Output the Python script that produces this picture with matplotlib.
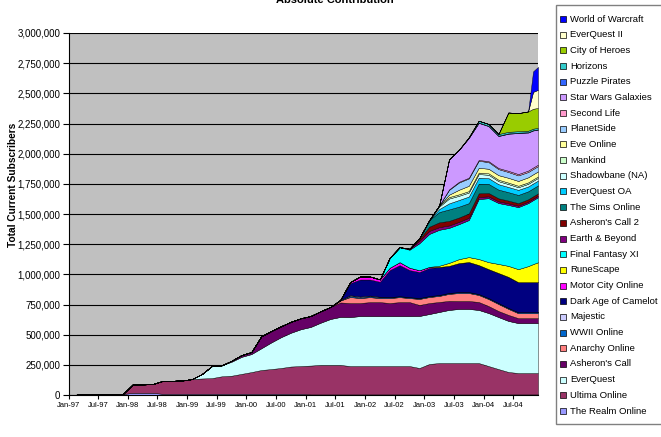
import matplotlib
matplotlib.use('Agg')
import matplotlib.pyplot as plt
from matplotlib.patches import Rectangle

plt.rcParams['font.family'] = ['Liberation Sans', 'DejaVu Sans']

# month index since Jan-97 (0 = Jan-97)
months = [1, 3, 5, 7, 9, 11, 13, 15, 17, 19, 21, 23, 25, 27, 29, 31, 33, 35, 37, 39,
          41, 43, 45, 47, 49, 51, 53, 55, 57, 59, 61, 63, 65, 67, 69, 71, 73, 75, 77, 79,
          81, 83, 85, 87, 89, 91, 93, 94, 95]

tick_months = [0, 6, 12, 18, 24, 30, 36, 42, 48, 54, 60, 66, 72, 78, 84, 90]
tick_labels = ['Jan-97', 'Jul-97', 'Jan-98', 'Jul-98', 'Jan-99', 'Jul-99', 'Jan-00', 'Jul-00',
               'Jan-01', 'Jul-01', 'Jan-02', 'Jul-02', 'Jan-03', 'Jul-03', 'Jan-04', 'Jul-04']

# subscribers in thousands, bottom of stack first
realm = [0, 8, 8, 8, 8, 8, 18, 18, 18, 10,
         10, 10, 10, 10, 10, 10, 10, 10, 10, 10,
         10, 10, 10, 10, 5, 5, 5, 5, 5, 5,
         5, 5, 5, 5, 5, 5, 5, 5, 5, 5,
         5, 5, 5, 5, 5, 5, 5, 5, 5]
ultima = [0, 0, 0, 0, 0, 0, 70, 70, 72, 106,
          108, 110, 122, 127, 130, 145, 150, 165, 180, 197,
          205, 214, 226, 230, 239, 244, 244, 244, 235, 235,
          235, 235, 235, 235, 235, 219, 252, 260, 260, 260,
          260, 260, 235, 210, 186, 177, 177, 177, 177]
everquest = [0, 0, 0, 0, 0, 0, 0, 0, 0, 0,
             0, 0, 0, 37, 100, 91, 116, 141, 149, 180,
             220, 255, 280, 305, 320, 350, 381, 398, 406, 414,
             414, 414, 414, 414, 414, 431, 414, 423, 440, 448,
             448, 440, 439, 431, 423, 414, 414, 414, 414]
asherons = [0, 0, 0, 0, 0, 0, 0, 0, 0, 0,
            0, 0, 0, 0, 0, 0, 8, 15, 17, 100,
            95, 91, 91, 91, 91, 95, 100, 120, 116, 108,
            116, 116, 108, 116, 116, 91, 91, 83, 75, 66,
            66, 66, 58, 50, 50, 41, 41, 41, 41]
anarchy = [0] * 27 + [16, 50, 41,
                      41, 33, 41, 41, 33, 50, 50, 50, 58, 66,
                      66, 58, 58, 58, 50, 41, 41, 41, 41]
wwii = [0] * 28 + [10, 8,
                   8, 8, 8, 8, 8, 8, 8, 8, 8, 8,
                   8, 8, 8, 8, 8, 8, 8, 8, 8]
majestic = [0] * 27 + [5, 5, 5,
                       5, 3, 0, 0, 0, 0, 0, 0, 0, 0,
                       0, 0, 0, 0, 0, 0, 0, 0, 0]
daoc = [0] * 28 + [100, 141,
                   133, 124, 224, 257, 224, 215, 232, 232, 224, 240,
                   249, 240, 240, 249, 257, 249, 249, 249, 249]
motorcity = [0] * 28 + [10, 25,
                        25, 20, 20, 25, 20, 15, 10, 0, 0, 0,
                        0, 0, 0, 0, 0, 0, 0, 0, 0]
runescape = [0] * 37 + [10, 25, 33,
                        41, 50, 58, 75, 91, 108, 133, 150, 165]
ffxi = [0] * 32 + [83, 124, 149, 224, 273, 298, 290, 290,
                   307, 497, 530, 505, 505, 514, 522, 530, 539]
earth_beyond = [0] * 34 + [8, 20, 25, 22, 20, 19,
                           19, 17, 15, 14, 13, 12, 12, 12, 12]
asherons2 = [0] * 35 + [15, 35, 40, 38, 36,
                        36, 30, 28, 25, 23, 21, 20, 20, 20]
sims = [0] * 35 + [8, 55, 85, 95, 90,
                   85, 80, 75, 72, 70, 68, 66, 66, 66]
eq_oa = [0] * 37 + [25, 50, 55,
                    55, 50, 48, 45, 43, 42, 40, 40, 40]
shadowbane = [0] * 37 + [20, 40, 35,
                         33, 30, 28, 25, 24, 22, 22, 22, 22]
mankind = [0] * 37 + [10, 12, 12,
                      12, 12, 12, 12, 12, 12, 12, 12, 12]
eve = [0] * 38 + [20, 38,
                  44, 40, 38, 38, 40, 40, 42, 42, 42]
planetside = [0] * 38 + [40, 60,
                         61, 58, 55, 50, 48, 46, 44, 44, 44]
second_life = [0] * 38 + [4, 6,
                          6, 7, 8, 9, 10, 11, 12, 12, 12]
swg = [0] * 38 + [249, 265,
                  330, 307, 290, 265, 307, 340, 315, 307, 290]
puzzle = [0] * 40 + [0, 3, 3, 3, 3, 3, 3, 3, 3]
horizons = [0] * 40 + [5, 15, 15, 14, 13, 12, 12, 12, 12]
city_heroes = [0] * 40 + [0, 0, 0, 0, 160, 150, 160, 165, 165]
eq2 = [0] * 40 + [0, 0, 0, 0, 0, 0, 0, 140, 150]
wow = [0] * 40 + [0, 0, 0, 0, 0, 0, 0, 170, 190]

names = ['The Realm Online', 'Ultima Online', 'EverQuest', "Asheron's Call", 'Anarchy Online',
         'WWII Online', 'Majestic', 'Dark Age of Camelot', 'Motor City Online', 'RuneScape',
         'Final Fantasy XI', 'Earth & Beyond', "Asheron's Call 2", 'The Sims Online',
         'EverQuest OA', 'Shadowbane (NA)', 'Mankind', 'Eve Online', 'PlanetSide',
         'Second Life', 'Star Wars Galaxies', 'Puzzle Pirates', 'Horizons', 'City of Heroes',
         'EverQuest II', 'World of Warcraft']
series = [realm, ultima, everquest, asherons, anarchy, wwii, majestic, daoc, motorcity,
          runescape, ffxi, earth_beyond, asherons2, sims, eq_oa, shadowbane, mankind, eve,
          planetside, second_life, swg, puzzle, horizons, city_heroes, eq2, wow]
colors = ['#9999FF', '#993366', '#CCFFFF', '#660066', '#FF8080', '#0066CC', '#CCCCFF',
          '#000080', '#FF00FF', '#FFFF00', '#00FFFF', '#800080', '#800000', '#008080',
          '#00CCFF', '#CCFFFF', '#CCFFCC', '#FFFF99', '#99CCFF', '#FF99CC', '#CC99FF',
          '#3366FF', '#33CCCC', '#99CC00', '#FFFFCC', '#0000FF']

for s in series:
    assert len(s) == len(months), len(s)

W, H = 661, 437
fig = plt.figure(figsize=(W / 100, H / 100), dpi=100)
fig.patch.set_facecolor('white')
ax = fig.add_axes([68.5 / W, 1 - 395 / H, (538 - 68.5) / W, (395 - 33) / H])
ax.set_facecolor('#C0C0C0')

ax.stackplot(months, *[[v * 1000 for v in s] for s in series], colors=colors,
             edgecolor='black', linewidth=0.3)

ax.set_xlim(0, 95)
ax.set_ylim(0, 3000000)
yt = list(range(0, 3000001, 250000))
ax.set_yticks(yt)
ax.set_yticklabels([f'{v:,}' for v in yt])
ax.set_xticks(tick_months)
ax.set_xticklabels(tick_labels)
ax.yaxis.grid(True, color='black', linewidth=0.8)
ax.set_axisbelow(True)
for sp in ['top', 'right']:
    ax.spines[sp].set_visible(False)
for sp in ['left', 'bottom']:
    ax.spines[sp].set_color('black')
    ax.spines[sp].set_linewidth(0.8)
ax.tick_params(axis='y', direction='out', length=4, width=0.8, labelsize=7, pad=2)
ax.tick_params(axis='x', direction='out', length=3, width=0.8, labelsize=5.5, pad=2)

fig.text(13 / W, 1 - 185 / H, 'Total Current Subscribers', rotation=90, ha='center',
         va='center', fontsize=7.3, fontweight='bold')
fig.text(335 / W, 1 - 3 / H, 'Absolute Contribution', ha='center', va='baseline',
         fontsize=8, fontweight='bold')

# legend (top entry = top of stack)
fig.patches.append(Rectangle((556 / W, 1 - 424 / H), 110 / W, 419 / H,
                             transform=fig.transFigure, facecolor='white',
                             edgecolor='#808080', linewidth=1.0, zorder=1))
for i, (nm, col) in enumerate(zip(names[::-1], colors[::-1])):
    yc = 19 + 15.68 * i
    fig.patches.append(Rectangle((560 / W, 1 - (yc + 3) / H), 6 / W, 6 / H,
                                 transform=fig.transFigure, facecolor=col,
                                 edgecolor='black', linewidth=0.5, zorder=2))
    fig.text(570 / W, 1 - yc / H, nm, ha='left', va='center', fontsize=6.8, zorder=3)

fig.savefig('out.png', dpi=100)
